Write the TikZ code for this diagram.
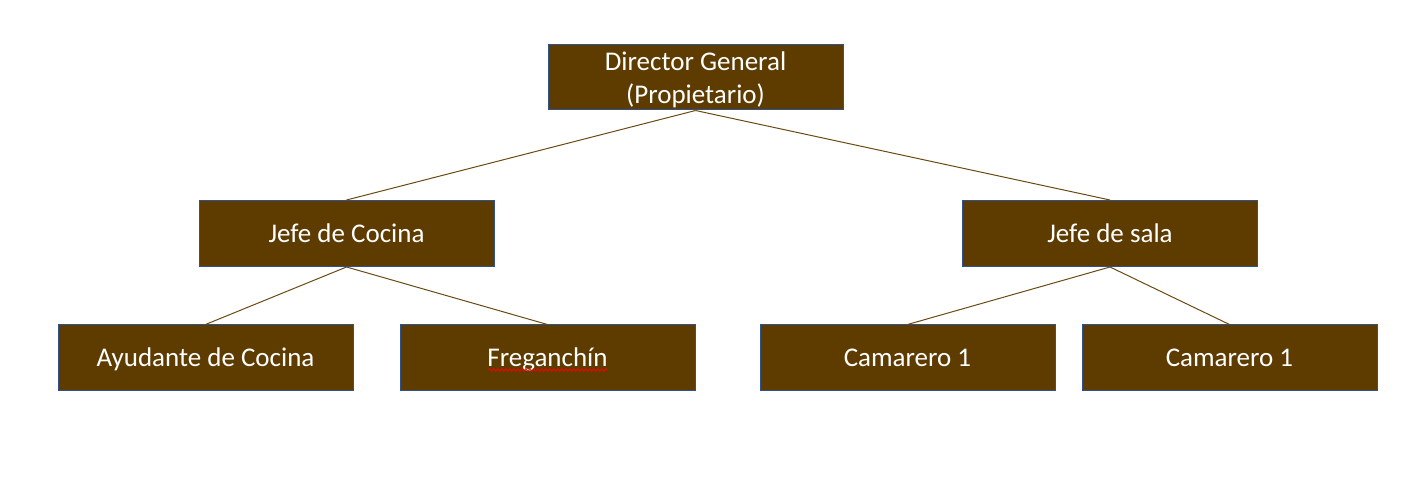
\documentclass[tikz,border=0pt]{standalone}
\usepackage{fontspec}
\setmainfont{Carlito}
\usepackage{xcolor}
\usepackage{tikz}
\usetikzlibrary{positioning, decorations.pathmorphing}

\definecolor{boxfill}{HTML}{5E3C00}
\definecolor{boxline}{HTML}{2F528F}
\definecolor{linkcol}{HTML}{6B4A12}

\begin{document}
\begin{tikzpicture}[
    x=1pt, y=-1pt,
    role/.style={rectangle, draw=boxline, line width=1pt, fill=boxfill, text=white, minimum width=295pt, minimum height=66pt, inner sep=0pt, font=\fontsize{27pt}{32.4pt}\selectfont, align=center, text height=21pt, text depth=3.6pt},
    link/.style={draw=linkcol, line width=1pt},
]
    \useasboundingbox (0,0) rectangle (1401,502);

    % top
    \node[role, minimum height=65pt, text height=, text depth=0pt] (dir) at (695.5,77.5) {Director General\\(Propietario)};

    % second level
    \node[role] (cocina) at (346.5,233.5) {Jefe de Cocina};
    \node[role] (sala) at (1110,233.5) {Jefe de sala};

    % third level
    \node[role] (ayud) at (205.5,358) {Ayudante de Cocina};
    \node[role] (freg) at (547.5,358) {Freganchín};
    \node[role] (cam1) at (907.5,358) {Camarero 1};
    \node[role] (cam2) at (1229.5,358) {Camarero 1};

    % spell check mark
    \coordinate (sqa) at ([xshift=-59pt, yshift=-12pt]freg.center);
    \coordinate (sqb) at ([xshift=60pt, yshift=-12pt]freg.center);
    \draw[red, line width=0.8pt, decorate, decoration={snake, amplitude=1.2pt, segment length=4pt}] (sqa) -- (sqb);

    % links
    \draw[link] (dir.south) -- (cocina.north);
    \draw[link] (dir.south) -- (sala.north);
    \draw[link] (cocina.south) -- (ayud.north);
    \draw[link] (cocina.south) -- (freg.north);
    \draw[link] (sala.south) -- (cam1.north);
    \draw[link] (sala.south) -- (cam2.north);
\end{tikzpicture}
\end{document}
